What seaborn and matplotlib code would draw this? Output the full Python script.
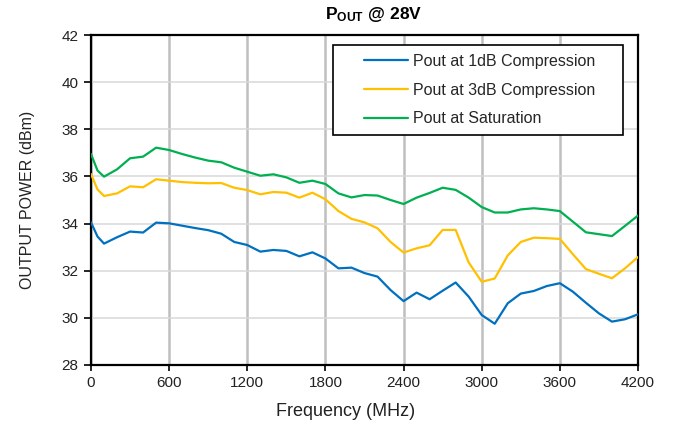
import matplotlib
matplotlib.use("Agg")
import matplotlib.pyplot as plt
from matplotlib.legend_handler import HandlerLine2D
import seaborn as sns
import pandas as pd

freq = [0, 50, 100, 200, 300, 400, 500, 600, 700, 800, 900, 1000, 1100, 1200,
        1300, 1400, 1500, 1600, 1700, 1800, 1900, 2000, 2100, 2200, 2300, 2400,
        2500, 2600, 2700, 2800, 2900, 3000, 3100, 3200, 3300, 3400, 3500, 3600,
        3700, 3800, 3900, 4000, 4100, 4200]

p1db = [34.05, 33.45, 33.15, 33.42, 33.66, 33.62, 34.04, 34.01, 33.91, 33.81,
        33.72, 33.57, 33.22, 33.09, 32.81, 32.88, 32.84, 32.61, 32.78, 32.52,
        32.10, 32.13, 31.90, 31.75, 31.18, 30.71, 31.07, 30.79, 31.15, 31.50,
        30.90, 30.12, 29.75, 30.62, 31.03, 31.14, 31.35, 31.47, 31.11, 30.64,
        30.19, 29.84, 29.94, 30.15]

p3db = [36.10, 35.45, 35.17, 35.28, 35.58, 35.54, 35.88, 35.82, 35.76, 35.73,
        35.71, 35.72, 35.52, 35.42, 35.24, 35.34, 35.31, 35.10, 35.31, 35.03,
        34.53, 34.20, 34.05, 33.80, 33.22, 32.77, 32.95, 33.08, 33.73, 33.73,
        32.35, 31.53, 31.67, 32.65, 33.22, 33.40, 33.38, 33.35, 32.70, 32.07,
        31.87, 31.68, 32.10, 32.58]

psat = [36.95, 36.25, 35.99, 36.30, 36.77, 36.84, 37.22, 37.12, 36.95, 36.80,
        36.67, 36.60, 36.37, 36.20, 36.03, 36.09, 35.96, 35.73, 35.82, 35.68,
        35.28, 35.11, 35.21, 35.19, 35.00, 34.83, 35.10, 35.30, 35.52, 35.43,
        35.10, 34.70, 34.47, 34.47, 34.60, 34.65, 34.60, 34.53, 34.08, 33.63,
        33.55, 33.47, 33.90, 34.34]

series_names = ["Pout at 1dB Compression", "Pout at 3dB Compression", "Pout at Saturation"]
colors = ["#0070C0", "#FFC000", "#00B050"]
x_ticks = [0, 600, 1200, 1800, 2400, 3000, 3600, 4200]
y_ticks = [28, 30, 32, 34, 36, 38, 40, 42]

df = pd.concat([
    pd.DataFrame({"Frequency": freq, "Power": vals, "Series": name})
    for name, vals in zip(series_names, [p1db, p3db, psat])
], ignore_index=True)

sns.set_theme(style="white")
plt.rcParams["font.family"] = ["Liberation Sans", "DejaVu Sans"]
plt.rcParams["mathtext.fontset"] = "custom"
plt.rcParams["mathtext.rm"] = "Liberation Sans"
plt.rcParams["mathtext.bf"] = "Liberation Sans:bold"

fig = plt.figure(figsize=(6.73, 4.28), dpi=100)
ax = fig.add_axes([91/673, 1-365/428, (638-91)/673, (365-35)/428])

sns.lineplot(data=df, x="Frequency", y="Power", hue="Series",
             palette=dict(zip(series_names, colors)), linewidth=1.6,
             ax=ax, legend=True, zorder=3)

ax.set_xlim(0, 4200)
ax.set_ylim(28, 42)
ax.set_xticks(x_ticks)
ax.set_yticks(y_ticks)
ax.set_xticklabels([str(t) for t in x_ticks], fontsize=11, color="#222222")
ax.set_yticklabels([str(t) for t in y_ticks], fontsize=11, color="#222222")

ax.xaxis.grid(True, color="#BFBFBF", linewidth=1.8, zorder=0)
ax.yaxis.grid(True, color="#D9D9D9", linewidth=1.1, zorder=0)
ax.set_axisbelow(True)

for s in ax.spines.values():
    s.set_color("black")
    s.set_linewidth(1.6)

ax.tick_params(axis="y", direction="out", length=5, width=1.2, color="black", pad=4, left=True)
ax.tick_params(axis="x", direction="out", length=4, width=1.2, color="black", pad=4, bottom=True)

ax.set_xlabel("Frequency (MHz)", fontsize=13, color="#222222")
ax.xaxis.set_label_coords((346 - 91) / 547, -(412 - 365) / 330)
ax.xaxis.label.set_va("center")
ax.set_ylabel("OUTPUT POWER (dBm)", fontsize=11.5, color="#222222", labelpad=19)

fig.text(374 / 673, 1 - 15/428, r"$\mathbf{P_{OUT}}$ @ 28V",
         ha="center", va="center", fontsize=12.5, fontweight="bold", color="black")

handler = HandlerLine2D(xpad=1.36)
leg = ax.legend(title=None, loc="upper left", mode="expand",
                bbox_to_anchor=(333/673, 1 - 133/428, 290/673, 88/428),
                bbox_transform=fig.transFigure,
                fontsize=11.5, frameon=True, fancybox=False, framealpha=1,
                edgecolor="black", handlelength=4.11, handletextpad=0.31,
                labelspacing=0.86, borderpad=0.56, borderaxespad=0,
                handler_map={matplotlib.lines.Line2D: handler})
leg.get_frame().set_linewidth(1.2)
for h in leg.get_lines():
    h.set_linewidth(1.6)

fig.savefig("out.png", dpi=100)
